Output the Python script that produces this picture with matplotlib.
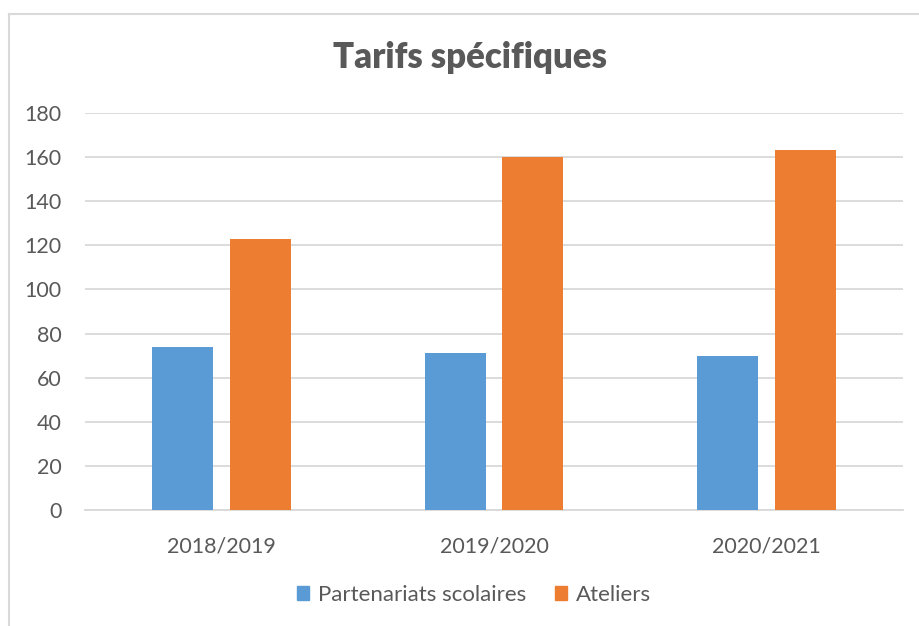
import matplotlib
matplotlib.use("Agg")
import matplotlib.pyplot as plt
import numpy as np
from matplotlib.lines import Line2D
from matplotlib.patches import Patch

categories = ["2018/2019", "2019/2020", "2020/2021"]
partenariats = [74, 71, 70]
ateliers = [123, 160, 163]
series_names = ["Partenariats scolaires", "Ateliers"]
y_ticks = [0, 20, 40, 60, 80, 100, 120, 140, 160, 180]

BLUE = "#5B9BD5"
ORANGE = "#ED7D31"
GRID = "#D9D9D9"
TEXT = "#595959"

W, H = 919, 626
plt.rcParams["font.family"] = ["Lato", "DejaVu Sans"]

fig = plt.figure(figsize=(W / 100, H / 100), dpi=100)
fig.patch.set_facecolor("white")

# chart frame (top and left edges only)
fig.add_artist(Line2D([8.5 / W, 1.0], [1 - 14 / H] * 2, transform=fig.transFigure,
                      color=GRID, lw=1.5))
fig.add_artist(Line2D([8.5 / W] * 2, [0, 1 - 14 / H], transform=fig.transFigure,
                      color=GRID, lw=1.5))

left, right, top, bottom = 85, 903, 113, 510
ax = fig.add_axes([left / W, 1 - bottom / H, (right - left) / W, (bottom - top) / H])

x = np.arange(len(categories))
width = 0.224
offset = 0.142
ax.bar(x - offset, partenariats, width, color=BLUE, zorder=3)
ax.bar(x + offset, ateliers, width, color=ORANGE, zorder=3)

ax.set_xlim(-0.5, len(categories) - 0.5)
ax.set_ylim(0, 180)
ax.set_yticks(y_ticks)
ax.set_xticks(x)
ax.set_xticklabels(categories)
ax.yaxis.grid(True, color=GRID, lw=1.3, zorder=0)
ax.set_axisbelow(True)
for s in ["top", "right", "left"]:
    ax.spines[s].set_visible(False)
ax.spines["bottom"].set_color(GRID)
ax.spines["bottom"].set_linewidth(1.3)
ax.tick_params(axis="both", length=0, labelsize=15.5, labelcolor=TEXT)
ax.tick_params(axis="y", pad=17)
ax.tick_params(axis="x", pad=19)

fig.text(470 / W, 1 - 58 / H, "Tarifs spécifiques", ha="center", va="center",
         fontsize=25, fontweight="heavy", color=TEXT)

handles = [Patch(color=BLUE), Patch(color=ORANGE)]
fig.legend(handles, series_names, loc="center", bbox_to_anchor=(474 / W, 1 - 595 / H),
           ncol=2, frameon=False, fontsize=16, labelcolor=TEXT,
           handlelength=0.55, handleheight=0.55, handletextpad=0.4, columnspacing=1.3)

fig.savefig("out.png", dpi=100)
